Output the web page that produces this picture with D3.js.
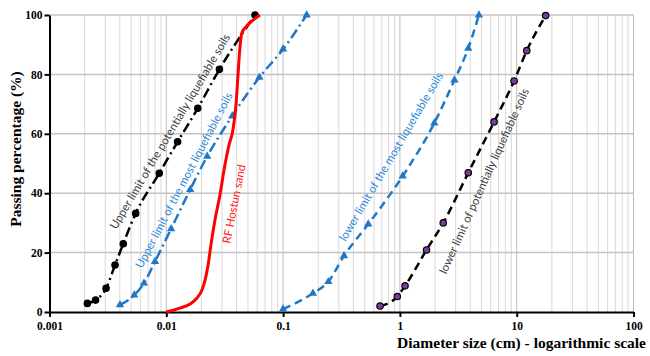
<!DOCTYPE html>
<html lang="en">
<head>
<meta charset="utf-8">
<script src="https://cdn.jsdelivr.net/npm/d3@7"></script>
<style>
  body { margin: 0; background: white; }
  svg { font-family: "Liberation Serif", serif; }
  .grid line { stroke: #d9d9d9; stroke-width: 1; }
  .grid line.major { stroke: #bdbdbd; }
  .hgrid line { stroke: #c4c4c4; stroke-width: 1.5; }
  .axis path, .axis line { stroke: #000; stroke-width: 2; }
  .axis text { font-weight: bold; font-size: 11.5px; fill: #000; font-family: "Liberation Serif", serif; }
  .note { font-family: Lato, sans-serif; font-size: 11.5px; }
</style>
</head>
<body>
<svg width="650" height="356"></svg>
<script>
// grain size curves (diameter cm, passing %)
var upperPotX = [0.00211, 0.00248, 0.00305, 0.00364, 0.00428, 0.00547, 0.0087, 0.0125, 0.0186, 0.0285, 0.0575];
var upperPotY = [2.9, 4, 8, 15.8, 23, 33.2, 46.7, 57.3, 68.6, 81.7, 100];

var upperMostX = [0.00401, 0.00532, 0.00644, 0.008, 0.011, 0.016, 0.0224, 0.0367, 0.0626, 0.1, 0.159];
var upperMostY = [2.4, 5.7, 9.7, 17, 28, 41.2, 52.4, 66, 79, 88.5, 100];

var hostunX = [0.01, 0.0131, 0.016, 0.0183, 0.0202, 0.0215, 0.0228, 0.0241, 0.0261, 0.0288, 0.0312, 0.0344, 0.0372, 0.0395, 0.0411, 0.0425, 0.0442, 0.0481, 0.0542, 0.0634];
var hostunY = [0, 1.3, 2.7, 4.7, 7.4, 10.8, 15.8, 22.6, 31, 39.4, 47.8, 56.2, 61.3, 69.7, 79.8, 88, 93.8, 96, 98, 100];

var lowerMostX = [0.1, 0.18, 0.244, 0.332, 0.536, 1.057, 1.97, 2.93, 3.85, 4.75];
var lowerMostY = [1, 6.3, 10.2, 18.9, 29.6, 45.8, 63.6, 78.1, 88.8, 100];

var lowerPotX = [0.676, 0.95, 1.107, 1.69, 2.35, 3.85, 6.4, 9.5, 12.2, 17.7];
var lowerPotY = [2, 5.2, 8.8, 20.9, 30, 46.9, 64, 77.8, 88, 99.8];

var xTicks = [0.001, 0.01, 0.1, 1, 10, 100];
var xTickLabels = ["0.001", "0.01", "0.1", "1", "10", "100"];
var yTicks = [0, 20, 40, 60, 80, 100];

var svg = d3.select("svg");
var mLeft = 49.5, mRight = 633.5, mTop = 15, mBottom = 312;

var x = d3.scaleLog().domain([0.001, 100]).range([mLeft, mRight]);
var y = d3.scaleLinear().domain([0, 100]).range([mBottom, mTop]);

// vertical grid (1..9 in each decade)
var minor = [];
for (var e = -3; e < 2; e++) {
  for (var k = 1; k <= 9; k++) minor.push(k * Math.pow(10, e));
}
minor.push(100);

svg.append("g").attr("class", "grid")
  .selectAll("line").data(minor).enter().append("line")
    .attr("class", d => Math.abs(Math.log10(d) - Math.round(Math.log10(d))) < 1e-6 ? "major" : null)
    .attr("x1", d => x(d)).attr("x2", d => x(d))
    .attr("y1", y(0)).attr("y2", y(100));

svg.append("g").attr("class", "hgrid")
  .selectAll("line").data(yTicks.slice(1)).enter().append("line")
    .attr("x1", mLeft).attr("x2", mRight)
    .attr("y1", d => y(d)).attr("y2", d => y(d));

// axes
svg.append("g").attr("class", "axis")
  .attr("transform", "translate(0," + mBottom + ")")
  .call(d3.axisBottom(x).tickValues(xTicks).tickFormat((d, i) => xTickLabels[i]).tickSize(5).tickSizeOuter(0).tickPadding(5));

svg.append("g").attr("class", "axis")
  .attr("transform", "translate(" + mLeft + ",0)")
  .call(d3.axisLeft(y).tickValues(yTicks).tickSize(5).tickSizeOuter(0).tickPadding(2));

// axis titles
svg.append("text")
  .attr("transform", "translate(21,149) rotate(-90)")
  .attr("text-anchor", "middle")
  .style("font-size", "15.5px").style("font-weight", "bold")
  .text("Passing percentage (%)");

svg.append("text")
  .attr("x", 646).attr("y", 348)
  .attr("text-anchor", "end")
  .style("font-size", "15.5px").style("font-weight", "bold")
  .text("Diameter size (cm) - logarithmic scale");

// series
var blue = "#1f77c6";
var series = [
  { xs: upperPotX, ys: upperPotY, color: "#000", dash: "10,4,2,4", marker: "circle", fill: "#000" },
  { xs: upperMostX, ys: upperMostY, color: blue, dash: "10,4,2,4", marker: "triangle", fill: blue },
  { xs: hostunX, ys: hostunY, color: "#ff0000", dash: null, marker: null, width: 3 },
  { xs: lowerMostX, ys: lowerMostY, color: blue, dash: "8,5", marker: "triangle", fill: blue },
  { xs: lowerPotX, ys: lowerPotY, color: "#000", dash: "8,5", marker: "circle", fill: "#7a3c9e" }
];

var line = d3.line().x(d => x(d[0])).y(d => y(d[1])).curve(d3.curveMonotoneX);

series.forEach(function(s) {
  var pts = s.xs.map((v, i) => [v, s.ys[i]]);
  svg.append("path")
    .datum(pts)
    .attr("d", line)
    .attr("fill", "none")
    .attr("stroke", s.color)
    .attr("stroke-width", s.width || 2.5)
    .attr("stroke-dasharray", s.dash);

  if (s.marker == "circle") {
    svg.append("g").selectAll("circle").data(pts).enter().append("circle")
      .attr("cx", d => x(d[0])).attr("cy", d => y(d[1]))
      .attr("r", 3.2)
      .attr("fill", s.fill).attr("stroke", "#000").attr("stroke-width", 1.2);
  } else if (s.marker == "triangle") {
    var sym = d3.symbol().type(d3.symbolTriangle).size(30);
    svg.append("g").selectAll("path").data(pts).enter().append("path")
      .attr("d", sym)
      .attr("transform", d => "translate(" + x(d[0]) + "," + y(d[1]) + ")")
      .attr("fill", s.fill);
  }
});

// curve labels
var notes = [
  { t: "Upper limit of the potentially liquefiable soils", x: 0.01076, y: 60.8, a: -59.4, c: "#404040" },
  { t: "Upper limit of the most liquefiable soils", x: 0.01417, y: 44.4, a: -62.4, c: "#2f88d6" },
  { t: "RF Hostun sand", x: 0.038, y: 36.4, a: -78.9, c: "#ff2020" },
  { t: "lower limit of the most liquefiable soils", x: 0.839, y: 52.3, a: -59.5, c: "#2f88d6" },
  { t: "lower limit of potentially liquefiable soils", x: 5.25, y: 44.1, a: -65.7, c: "#404040" }
];

svg.append("g").selectAll("text").data(notes).enter().append("text")
  .attr("class", "note")
  .attr("transform", d => "translate(" + x(d.x) + "," + y(d.y) + ") rotate(" + d.a + ")")
  .attr("text-anchor", "middle")
  .attr("dy", "0.35em")
  .attr("fill", d => d.c)
  .text(d => d.t);
</script>
</body>
</html>
